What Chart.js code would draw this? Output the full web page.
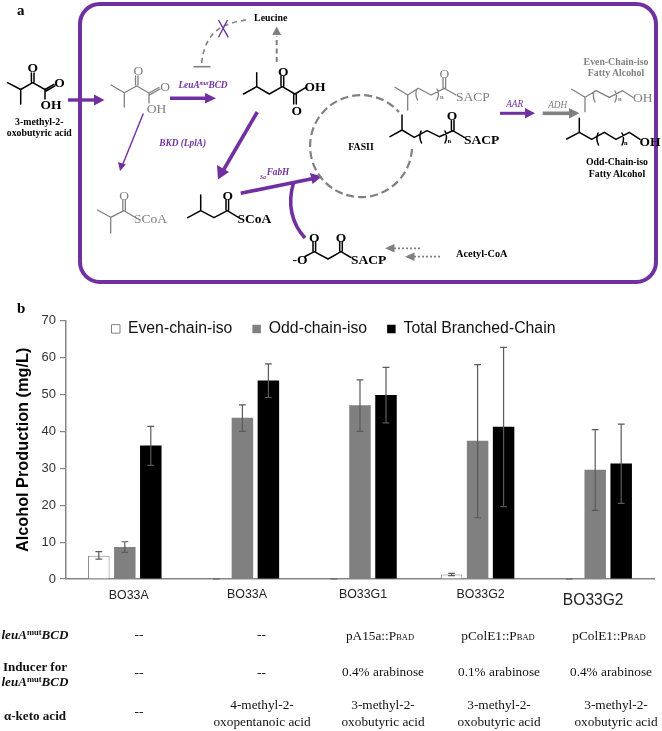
<!DOCTYPE html>
<html><head><meta charset="utf-8">
<script src="https://cdn.jsdelivr.net/npm/chart.js@4"></script>
<style>
html,body{margin:0;padding:0;background:#fff}
#wrap{position:relative;width:662px;height:731px;overflow:hidden}
canvas,svg{position:absolute;left:0;top:0}
.k{stroke:#000;stroke-width:1.5;fill:none;stroke-linecap:round;stroke-linejoin:round}
.g{stroke:#808080;stroke-width:1.3;fill:none;stroke-linecap:round;stroke-linejoin:round}
text{font-family:"Liberation Serif",serif}
.b{font-weight:bold}
.at{font-size:13.5px;font-weight:bold;text-anchor:middle}
.ag{font-size:13.5px;fill:#808080;text-anchor:middle}
.lb{font-size:9.8px;font-weight:bold;text-anchor:middle}
.pp{fill:#7030a0;font-style:italic;font-weight:bold;font-size:9.3px;text-anchor:middle}
.t{font-size:13.3px;text-anchor:middle;fill:#111}
.h{font-size:13.1px;font-weight:bold;text-anchor:middle;fill:#111}
.sm{font-size:8.5px}
</style></head>
<body><div id="wrap">
<canvas id="c" width="662" height="731"></canvas>
<svg width="662" height="731" viewBox="0 0 662 731" xmlns="http://www.w3.org/2000/svg">
<text x="17" y="14.5" class="b" font-size="15">a</text>
<text x="17" y="313" class="b" font-size="15">b</text>
<rect x="80" y="4" width="576" height="278" rx="20" fill="none" stroke="#7030a0" stroke-width="4"/>

<!-- molecule 1 -->
<g id="m1" class="k">
<path d="M7.5 82.7L20.7 89.5V104M20.7 89.5L32.7 82.7L45 89.5V99M45 89.5L54 84.4M46 91L55 85.9M31.4 82V73M34 82V73"/>
</g>
<text x="32.7" y="72" class="at">O</text><text x="59.5" y="87" class="at">O</text><text x="51" y="108.5" class="at">OH</text>
<text x="39.3" y="125" class="lb">3-methyl-2-</text><text x="39.3" y="136" class="lb">oxobutyric acid</text>
<path d="M68 100H95" stroke="#7030a0" stroke-width="3.4"/><path d="M94 94.5L104.5 100L94 105.5Z" fill="#7030a0"/>

<!-- molecule 2 -->
<path class="g" d="M111 85L124.3 92.7V107M124.3 92.7L136.7 86L149 93V103M149 93L159 87.5M150 94.6L160 89M135.5 85V76M138 85V76"/>
<text x="138.3" y="75" class="ag">O</text><text x="165" y="90.5" class="ag">O</text><text x="156.5" y="113" class="ag">OH</text>
<path d="M170 98.3H206" stroke="#7030a0" stroke-width="3.6"/><path d="M205 93L216 98.3L205 103.6Z" fill="#7030a0"/>
<text x="203" y="88" class="pp">LeuA<tspan font-size="5.5" dy="-3">mut</tspan><tspan dy="3">BCD</tspan></text>

<!-- molecule 3 -->
<path class="k" d="M243.5 94L256.7 86.7V72.7M256.7 86.7L269.3 94L282.3 86.7L295 94L306 87.4M281 86V76M283.7 86V76M293.7 94V104M296.3 94V104"/>
<text x="283.3" y="75.5" class="at">O</text><text x="315" y="91" class="at">OH</text><text x="296.7" y="115" class="at">O</text>

<!-- feedback -->
<path d="M201.7 63C203 47 210 33 222 27C230 23 240 20 250 20" fill="none" stroke="#808080" stroke-width="1.6" stroke-dasharray="5 4"/>
<path d="M193.5 66.7H210.5" stroke="#808080" stroke-width="1.6"/>
<path d="M218.5 20L228.3 37.3M227.5 20L218.5 37.3" stroke="#7030a0" stroke-width="1.4" fill="none"/>
<text x="270.7" y="21" class="lb">Leucine</text>
<path d="M276.7 62V36" stroke="#808080" stroke-width="2" stroke-dasharray="5 3.5"/><path d="M272.2 35L276.7 26.5L281.2 35Z" fill="#808080"/>

<!-- BKD arrows -->
<path d="M143.3 113.5L122.5 165" stroke="#7030a0" stroke-width="1.4"/><path d="M118 162L120 171L125.8 164.5Z" fill="#7030a0"/>
<text x="182.7" y="146" class="pp">BKD (LplA)</text>
<path d="M257.3 112L223.5 170" stroke="#7030a0" stroke-width="3.6"/><path d="M217 165L218 179.5L229 172Z" fill="#7030a0"/>

<!-- SCoA molecules -->
<path class="g" d="M97.5 210L110.7 217.3V233M110.7 217.3L124 210.7L135 217.3M122.8 210V200M125.3 210V200"/>
<text x="124" y="199.5" class="ag">O</text><text x="134" y="222.5" font-size="13.5" fill="#808080">SCoA</text>
<path class="k" d="M187.7 217.7L200.7 210.7V195M200.7 210.7L214 217.7L227.3 210.7L238.3 217.3M226 210V200M228.6 210V200"/>
<text x="227.7" y="199.5" class="at">O</text><text x="237.5" y="222.5" font-size="13.5" class="b">SCoA</text>

<!-- FabH -->
<text x="278" y="175" class="pp">FabH</text><text x="263" y="178.5" class="pp" font-size="5.5" style="font-size:5.5px">Sa</text>
<path d="M240.7 193.3L312 178.7" stroke="#7030a0" stroke-width="3.6"/><path d="M310 173L322 176.5L312.5 184Z" fill="#7030a0"/>
<path d="M305 238C292 224 287 204 293.5 183" fill="none" stroke="#7030a0" stroke-width="3.6"/>

<!-- FASII -->
<path d="M412 149A51 51 0 1 1 399 112" fill="none" stroke="#808080" stroke-width="2.2" stroke-dasharray="8 4"/>
<text x="361" y="149.5" class="lb">FASII</text>

<!-- gray ACP -->
<path class="g" d="M395 87.3L407.7 95V110M407.7 95L418.3 88.3L431 95L444.3 88.3L456 95M443 88V78M445.6 88V78M417 89Q414.5 94 417.5 100M437 89Q440 94 437 100"/>
<text x="444.3" y="78" class="ag">O</text><text x="456" y="100.5" font-size="13.5" fill="#808080">SACP</text><text x="440" y="99" font-size="6.5" fill="#808080" class="b">n</text>
<!-- black ACP -->
<path class="k" d="M390 136.7L402 130V115M402 130L414.3 137.3L427 130.7L439.3 136.7L452.7 130.7L464.3 137.3M451.4 130V120.5M454 130V120.5M421 131Q418.5 137 421.5 143M445 131Q448 137 445 143"/>
<text x="452" y="120" class="at">O</text><text x="464" y="143.5" font-size="13.5" class="b">SACP</text><text x="447.5" y="143" font-size="6.5" class="b">n</text>

<!-- AAR / ADH -->
<path d="M500 113.3H526" stroke="#7030a0" stroke-width="3"/><path d="M525 108L535 113.3L525 118.6Z" fill="#7030a0"/>
<text x="514.7" y="107" class="pp" style="font-weight:normal">AAR</text>
<path d="M542.7 113.3H570" stroke="#808080" stroke-width="3.6"/><path d="M569 108L579.5 113.3L569 118.6Z" fill="#808080"/>
<text x="557.7" y="107.5" class="pp" style="font-weight:normal;fill:#808080">ADH</text>

<!-- alcohols -->
<text x="616" y="64.5" class="lb" fill="#808080">Even-Chain-iso</text><text x="616" y="76" class="lb" fill="#808080">Fatty Alcohol</text>
<path class="g" d="M571.7 89.3L585 97.3V111.7M585 97.3L596 90.7L609.3 97.3L622.7 90.7L632.7 97.3M594.5 91Q592 96 595 102M615 91Q618 96 615 102"/>
<text x="633" y="101.5" font-size="13.5" fill="#808080">OH</text><text x="618" y="101" font-size="6.5" fill="#808080" class="b">n</text>
<path class="k" d="M566.7 139L579.3 132.3V118.3M579.3 132.3L591.7 139.3L604.3 132.3L616 139.3L629.3 132.3L640 139.3M598 133Q595.5 139 598.5 145M622 133Q625 139 622 145"/>
<text x="639.5" y="145.5" font-size="13.5" class="b">OH</text><text x="624" y="145" font-size="6.5" class="b">n</text>
<text x="617" y="165" class="lb">Odd-Chain-iso</text><text x="617" y="177" class="lb">Fatty Alcohol</text>

<!-- malonyl -->
<path class="k" d="M305 256.5L314.3 251.7L328 259L341 251.7L351 257.5M313 251V241.5M315.6 251V241.5M339.7 251V241.5M342.3 251V241.5"/>
<text x="292.5" y="263.5" font-size="13.5" class="b">-O</text><text x="314.3" y="241.5" class="at">O</text><text x="341" y="241.5" class="at">O</text>
<text x="351" y="264" font-size="13.5" class="b">SACP</text>
<path d="M394 248.3H420.3" stroke="#808080" stroke-width="1.8" stroke-dasharray="2 2"/><path d="M394.5 244L385 248.3L394.5 252.6Z" fill="#808080"/>
<path d="M414 256.7H442" stroke="#808080" stroke-width="1.8" stroke-dasharray="2 2"/><path d="M414.5 252.4L405 256.7L414.5 261Z" fill="#808080"/>
<text x="481.8" y="256.5" class="lb" font-size="10.5" style="font-size:10.3px">Acetyl-CoA</text>

<!-- table -->
<text x="35" y="639" class="h"><tspan font-style="italic">leuA</tspan><tspan class="sm" dy="-4">mut</tspan><tspan font-style="italic" dy="4">BCD</tspan></text>
<text x="35" y="671" class="h">Inducer for</text>
<text x="35" y="686" class="h"><tspan font-style="italic">leuA</tspan><tspan class="sm" dy="-4">mut</tspan><tspan font-style="italic" dy="4">BCD</tspan></text>
<text x="35" y="720" class="h">α-keto acid</text>
<text x="139" y="639" class="t">--</text><text x="261.5" y="639" class="t">--</text>
<text x="380" y="640" class="t">pA15a::P<tspan class="sm">BAD</tspan></text>
<text x="498" y="640" class="t">pColE1::P<tspan class="sm">BAD</tspan></text>
<text x="609" y="640" class="t">pColE1::P<tspan class="sm">BAD</tspan></text>
<text x="139" y="677" class="t">--</text><text x="261.5" y="677" class="t">--</text>
<text x="383" y="676" class="t">0.4% arabinose</text><text x="499" y="676" class="t">0.1% arabinose</text><text x="611" y="676" class="t">0.4% arabinose</text>
<text x="139" y="716" class="t">--</text>
<text x="262" y="709" class="t">4-methyl-2-</text><text x="262" y="726" class="t">oxopentanoic acid</text>
<text x="383" y="709" class="t">3-methyl-2-</text><text x="383" y="726" class="t">oxobutyric acid</text>
<text x="499" y="709" class="t">3-methyl-2-</text><text x="499" y="726" class="t">oxobutyric acid</text>
<text x="616" y="709" class="t">3-methyl-2-</text><text x="616" y="726" class="t">oxobutyric acid</text>
</svg>
</div>
<script>
const categories = ["BO33A","BO33A","BO33G1","BO33G2","BO33G2"];
const evenChain = [6.3,0,0,1.2,0];
const oddChain = [8.7,43.7,47.1,37.5,29.6];
const totalBranched = [36.2,53.8,49.9,41.3,31.3];
const evenLow = [5.4,0,0,0.9,0];
const evenHigh = [7.4,0,0,1.5,0];
const oddLow = [7.2,40,40,16.6,18.6];
const oddHigh = [10.1,47.2,54,58.1,40.5];
const totalLow = [30.8,49.2,42.3,19.6,20.5];
const totalHigh = [41.4,58.3,57.4,62.8,42];
const yTicks = [0,10,20,30,40,50,60,70];
const errLows = [evenLow,oddLow,totalLow], errHighs = [evenHigh,oddHigh,totalHigh];
const labelShiftX = [4,4.6,3,3,-2], labelShiftY = [1.5,0,0,0,4.5];
const SANS = '"Liberation Sans",Arial,sans-serif';

const errorBars = {
  id:'errorBars',
  afterDatasetsDraw(chart){
    const c = chart.ctx, y = chart.scales.y;
    c.save(); c.strokeStyle='#5a5a5a'; c.lineWidth=1.2;
    chart.data.datasets.forEach((d,i)=>{
      chart.getDatasetMeta(i).data.forEach((el,j)=>{
        const lo=y.getPixelForValue(errLows[i][j]), hi=y.getPixelForValue(errHighs[i][j]);
        c.beginPath();
        c.moveTo(el.x,lo); c.lineTo(el.x,hi);
        c.moveTo(el.x-3.4,lo); c.lineTo(el.x+3.4,lo);
        c.moveTo(el.x-3.4,hi); c.lineTo(el.x+3.4,hi);
        c.stroke();
      });
    });
    c.restore();
  }
};
const placement = {
  id:'placement',
  afterLayout(chart){
    const lg = chart.legend;
    lg.left = 91.5; lg.top = 301; lg.bottom = 355;
    chart.scales.x.getLabelItems(chart.chartArea).forEach((it,i)=>{
      it.options.translation[0]+=labelShiftX[i];
      it.options.translation[1]+=labelShiftY[i];
    });
  }
};
new Chart(document.getElementById('c'),{
  type:'bar',
  data:{labels:categories,datasets:[
    {label:'Even-chain-iso',data:evenChain,backgroundColor:'#ffffff',borderColor:'#808080',borderWidth:1},
    {label:'Odd-chain-iso',data:oddChain,backgroundColor:'#808080',borderColor:'#808080',borderWidth:0},
    {label:'Total Branched-Chain',data:totalBranched,backgroundColor:'#000000',borderColor:'#000000',borderWidth:0}
  ]},
  options:{
    responsive:false,animation:false,
    datasets:{bar:{categoryPercentage:0.663,barPercentage:0.827}},
    layout:{padding:{left:14,top:275,right:8,bottom:122}},
    plugins:{
      tooltip:{enabled:false},title:{display:false},
      legend:{display:true,position:'top',align:'start',
        labels:{boxWidth:8.5,boxHeight:8.5,padding:20,color:'#111',font:{family:SANS,size:15.8}}}
    },
    scales:{
      x:{
        afterFit(s){s.height=30},
        grid:{display:true,drawOnChartArea:false,drawTicks:false},
        border:{color:'#868686',width:1.5},
        ticks:{color:'#222',maxRotation:0,autoSkip:false,padding:8,
          font:c=>({family:SANS,size:c.index===4?15.6:12.4})}
      },
      y:{
        min:0,max:70,
        afterFit(s){s.width=52},
        afterBuildTicks(s){s.ticks=yTicks.map(v=>({value:v}))},
        grid:{drawOnChartArea:false,color:'#868686',tickLength:6,lineWidth:1.2},
        border:{color:'#868686',width:1.5},
        ticks:{color:'#333',padding:4,font:{family:SANS,size:13}},
        title:{display:true,text:'Alcohol Production (mg/L)',color:'#000',padding:0,
          font:{family:SANS,size:16.3,weight:'bold'}}
      }
    }
  },
  plugins:[errorBars,placement]
});
</script>
</body></html>
